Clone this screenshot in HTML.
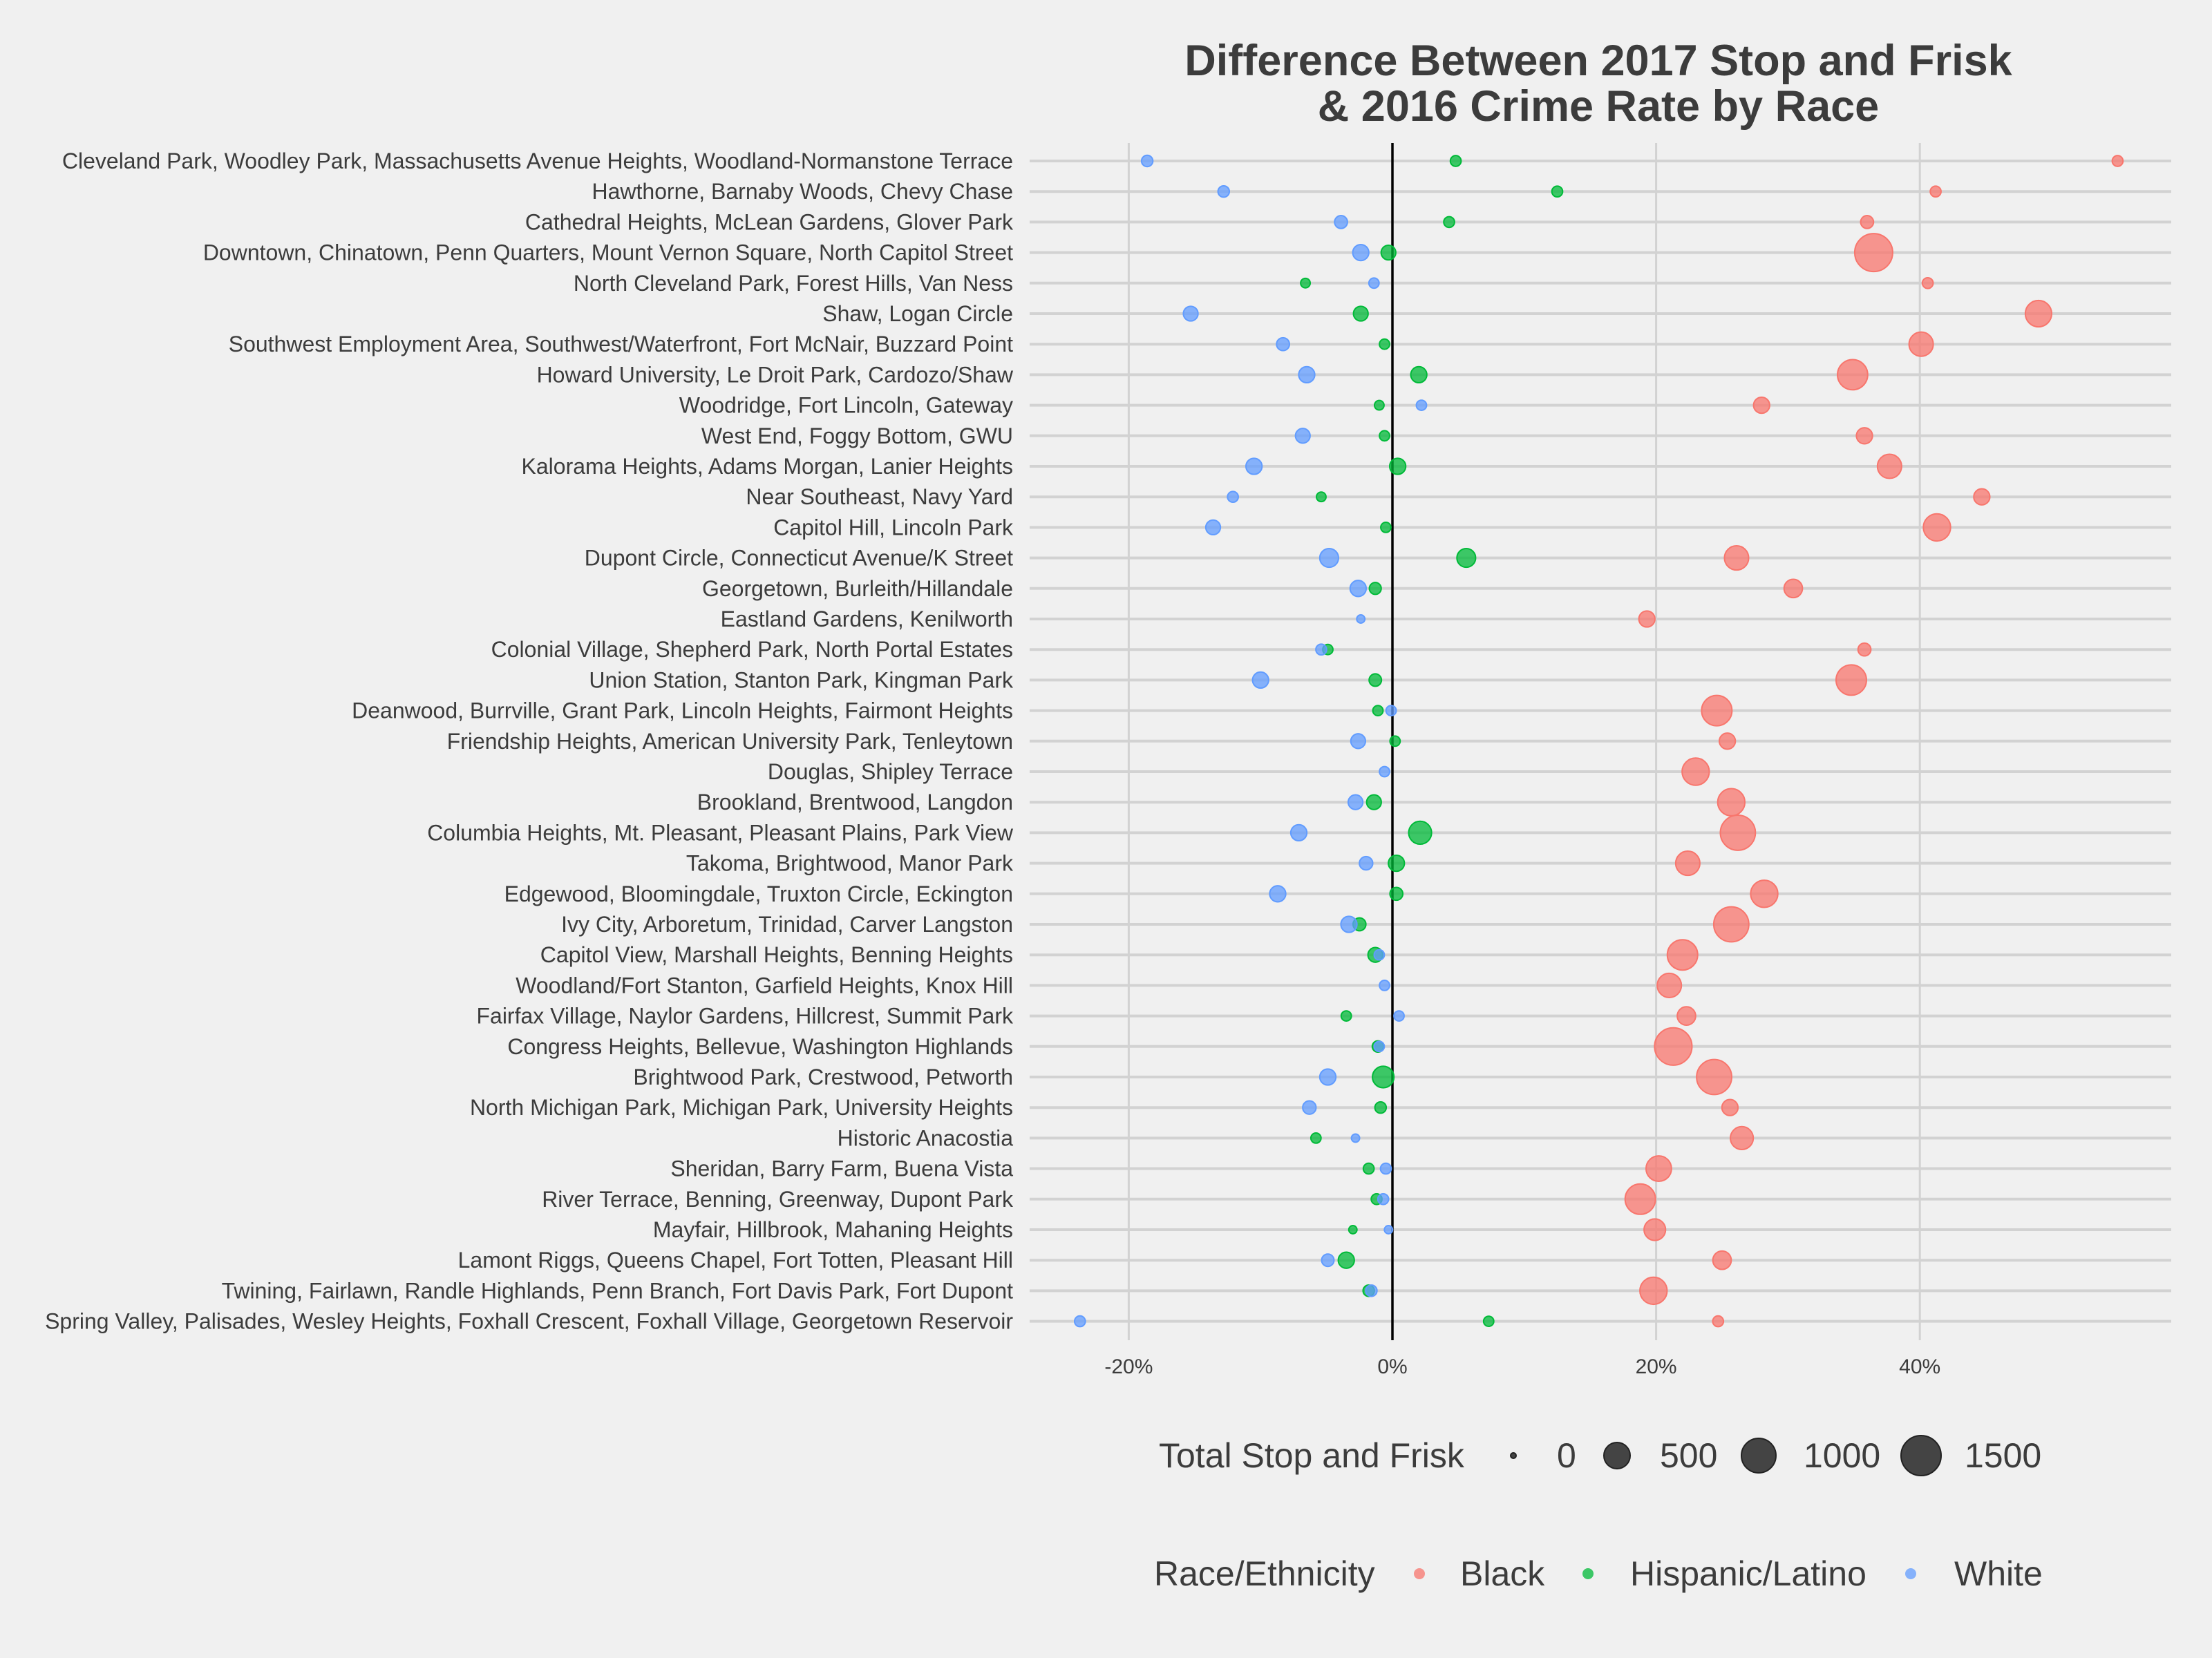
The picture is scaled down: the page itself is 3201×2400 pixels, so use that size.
<!DOCTYPE html>
<html><head><meta charset="utf-8"><style>
html,body{margin:0;padding:0;background:#f0f0f0;}
svg{display:block;font-family:"Liberation Sans",Arial,sans-serif;}
</style></head><body>
<svg id="chart" width="3201" height="2400" viewBox="0 0 3201 2400" xmlns="http://www.w3.org/2000/svg">
<rect width="3201" height="2400" fill="#f0f0f0"/>
<text x="2313" y="109" text-anchor="middle" font-size="63" font-weight="bold" fill="#3c3c3c">Difference Between 2017 Stop and Frisk</text>
<text x="2313" y="175" text-anchor="middle" font-size="63" font-weight="bold" fill="#3c3c3c">&amp; 2016 Crime Rate by Race</text>
<g id="grid"></g><g id="ylabels"></g><g id="xticks"></g><g id="points"></g>
<g>
<text x="1677" y="2124" font-size="50" fill="#3c3c3c">Total Stop and Frisk</text>
<circle cx="2190" cy="2107" r="4" fill="#444" stroke="#222" stroke-width="2"/>
<text x="2253" y="2124" font-size="50" fill="#3c3c3c">0</text>
<circle cx="2340" cy="2107" r="19" fill="#444" stroke="#222" stroke-width="2"/>
<text x="2402" y="2124" font-size="50" fill="#3c3c3c">500</text>
<circle cx="2545" cy="2107" r="25" fill="#444" stroke="#222" stroke-width="2"/>
<text x="2610" y="2124" font-size="50" fill="#3c3c3c">1000</text>
<circle cx="2780" cy="2107" r="29" fill="#444" stroke="#222" stroke-width="2"/>
<text x="2843" y="2124" font-size="50" fill="#3c3c3c">1500</text>
</g>
<g>
<text x="1670" y="2295" font-size="50" fill="#3c3c3c">Race/Ethnicity</text>
<circle cx="2054" cy="2278" r="8" fill="#F8766D" fill-opacity="0.75"/>
<text x="2113" y="2295" font-size="50" fill="#3c3c3c">Black</text>
<circle cx="2298" cy="2278" r="8" fill="#00BA38" fill-opacity="0.75"/>
<text x="2359" y="2295" font-size="50" fill="#3c3c3c">Hispanic/Latino</text>
<circle cx="2765" cy="2278" r="8" fill="#619CFF" fill-opacity="0.75"/>
<text x="2828" y="2295" font-size="50" fill="#3c3c3c">White</text>
</g>
</svg>
<script>
const neighborhoods = ["Cleveland Park, Woodley Park, Massachusetts Avenue Heights, Woodland-Normanstone Terrace","Hawthorne, Barnaby Woods, Chevy Chase","Cathedral Heights, McLean Gardens, Glover Park","Downtown, Chinatown, Penn Quarters, Mount Vernon Square, North Capitol Street","North Cleveland Park, Forest Hills, Van Ness","Shaw, Logan Circle","Southwest Employment Area, Southwest/Waterfront, Fort McNair, Buzzard Point","Howard University, Le Droit Park, Cardozo/Shaw","Woodridge, Fort Lincoln, Gateway","West End, Foggy Bottom, GWU","Kalorama Heights, Adams Morgan, Lanier Heights","Near Southeast, Navy Yard","Capitol Hill, Lincoln Park","Dupont Circle, Connecticut Avenue/K Street","Georgetown, Burleith/Hillandale","Eastland Gardens, Kenilworth","Colonial Village, Shepherd Park, North Portal Estates","Union Station, Stanton Park, Kingman Park","Deanwood, Burrville, Grant Park, Lincoln Heights, Fairmont Heights","Friendship Heights, American University Park, Tenleytown","Douglas, Shipley Terrace","Brookland, Brentwood, Langdon","Columbia Heights, Mt. Pleasant, Pleasant Plains, Park View","Takoma, Brightwood, Manor Park","Edgewood, Bloomingdale, Truxton Circle, Eckington","Ivy City, Arboretum, Trinidad, Carver Langston","Capitol View, Marshall Heights, Benning Heights","Woodland/Fort Stanton, Garfield Heights, Knox Hill","Fairfax Village, Naylor Gardens, Hillcrest, Summit Park","Congress Heights, Bellevue, Washington Highlands","Brightwood Park, Crestwood, Petworth","North Michigan Park, Michigan Park, University Heights","Historic Anacostia","Sheridan, Barry Farm, Buena Vista","River Terrace, Benning, Greenway, Dupont Park","Mayfair, Hillbrook, Mahaning Heights","Lamont Riggs, Queens Chapel, Fort Totten, Pleasant Hill","Twining, Fairlawn, Randle Highlands, Penn Branch, Fort Davis Park, Fort Dupont","Spring Valley, Palisades, Wesley Heights, Foxhall Crescent, Foxhall Village, Georgetown Reservoir"];
const blackDiff = [55.0,41.2,36.0,36.5,40.6,49.0,40.1,34.9,28.0,35.8,37.7,44.7,41.3,26.1,30.4,19.3,35.8,34.8,24.6,25.4,23.0,25.7,26.2,22.4,28.2,25.7,22.0,21.0,22.3,21.3,24.4,25.6,26.5,20.2,18.8,19.9,25.0,19.8,24.7];
const blackCount = [70,70,110,1400,70,550,450,790,185,185,450,185,600,450,250,185,110,800,800,185,600,600,1150,450,600,1150,800,450,250,1350,1150,185,400,500,800,350,250,600,70];
const hispDiff = [4.8,12.5,4.3,-0.3,-6.6,-2.4,-0.6,2.0,-1.0,-0.6,0.4,-5.4,-0.5,5.6,-1.3,null,-4.9,-1.3,-1.1,0.2,null,-1.4,2.1,0.3,0.3,-2.5,-1.3,null,-3.5,-1.1,-0.7,-0.9,-5.8,-1.8,-1.2,-3.0,-3.5,-1.8,7.3];
const hispCount = [70,70,70,150,50,150,60,185,50,60,185,50,60,260,90,0,60,100,60,60,0,150,400,185,110,110,150,0,60,80,350,80,60,70,70,30,185,80,60];
const whiteDiff = [-18.6,-12.8,-3.9,-2.4,-1.4,-15.3,-8.3,-6.5,2.2,-6.8,-10.5,-12.1,-13.6,-4.8,-2.6,-2.4,-5.4,-10.0,-0.1,-2.6,-0.6,-2.8,-7.1,-2.0,-8.7,-3.3,-1.0,-0.6,0.5,-1.0,-4.9,-6.3,-2.8,-0.5,-0.7,-0.3,-4.9,-1.6,-23.7];
const whiteCount = [80,80,110,185,60,150,110,185,60,150,185,70,150,260,185,30,70,185,60,150,60,150,185,120,185,185,60,60,60,60,185,120,30,70,70,30,100,80,70];
const xTicks = [-20,0,20,40];
const xTickLabels = ["-20%","0%","20%","40%"];

const NS="http://www.w3.org/2000/svg";
const X0=2015, PX=19.08, Y0=233, DY=44.2, LEFT=1490, RIGHT=3142, TOP=207, BOTTOM=1940;
function xScale(v){return X0+v*PX;}
function yScale(i){return Y0+i*DY;}
function rScale(n){let r2;
 if(n>=1000) r2=580+(n-1000)*(220/500); else if(n>=500) r2=340+(n-500)*(240/500); else r2=16+n*(324/500);
 return Math.sqrt(r2);}
function mk(tag,attrs,parent){const e=document.createElementNS(NS,tag);for(const k in attrs)e.setAttribute(k,attrs[k]);parent.appendChild(e);return e;}
const grid=document.getElementById('grid'), yl=document.getElementById('ylabels'), xt=document.getElementById('xticks'), pts=document.getElementById('points');
xTicks.forEach((t,i)=>{
 const l=mk('line',{x1:xScale(t),x2:xScale(t),y1:TOP,y2:BOTTOM,stroke:'#d2d2d2','stroke-width':3},grid);
 
 
 const tx=mk('text',{x:xScale(t),y:1988,'text-anchor':'middle','font-size':30,fill:'#3c3c3c'},xt);
 tx.textContent=xTickLabels[i];
 
 
});
neighborhoods.forEach((nm,i)=>{
 const l=mk('line',{x1:LEFT,x2:RIGHT,y1:yScale(i),y2:yScale(i),stroke:'#d2d2d2','stroke-width':4},grid);
 
 
 const t=mk('text',{x:1466,y:yScale(i)+11,'text-anchor':'end','font-size':32,fill:'#3c3c3c'},yl);
 t.textContent=nm;
 
 
});
const zl=mk('line',{x1:xScale(0),x2:xScale(0),y1:TOP,y2:BOTTOM,stroke:'#000','stroke-width':3.5},grid);


const series=[[blackDiff,blackCount,'#F8766D','black'],[hispDiff,hispCount,'#00BA38','hispanic'],[whiteDiff,whiteCount,'#619CFF','white']];
series.forEach(s=>{
 s[0].forEach((v,i)=>{
  if(v===null) return;
  const c=mk('circle',{cx:xScale(v),cy:yScale(i),r:rScale(s[1][i]),fill:s[2],'fill-opacity':0.75,stroke:s[2],'stroke-width':2},pts);
  
  
 });
});
</script>
</body></html>
